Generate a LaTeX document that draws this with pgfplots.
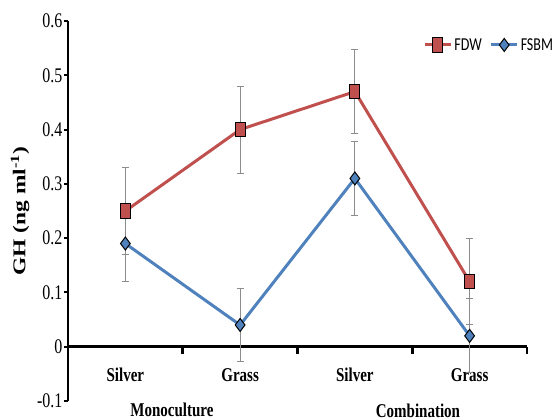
\documentclass[border=0pt]{standalone}
\usepackage{fontspec}
\setmainfont{Liberation Serif}
\newfontfamily\carlito{Carlito}
\usepackage{graphicx}
\usepackage{pgfplots}
\pgfplotsset{compat=1.18}
\definecolor{fdw}{HTML}{C0504D}
\definecolor{fsbm}{HTML}{4F81BD}
\definecolor{errc}{HTML}{8C8C8C}
\newcommand{\vs}[1]{\scalebox{1}[1.3]{#1}}
\begin{document}
\begin{tikzpicture}
\path[use as bounding box] (-68pt,-19pt) rectangle (486pt,401pt);
\begin{axis}[
  at={(0,0)}, anchor=south west,
  scale only axis, width=459pt, height=380pt,
  xmin=-0.5, xmax=3.5, ymin=-0.1, ymax=0.6,
  axis y line*=left, axis x line*=middle,
  hide obscured x ticks=false, hide obscured y ticks=false,
  axis line style={line width=2.5pt, black},
  tick style={line width=2pt, black},
  ytick={-0.1,0,0.1,0.2,0.3,0.4,0.5,0.6},
  yticklabels={\vs{-0.1},\vs{0},\vs{0.1},\vs{0.2},\vs{0.3},\vs{0.4},\vs{0.5},\vs{0.6}},
  yticklabel style={font=\fontsize{16}{16}\selectfont, xshift=2pt},
  ytick align=outside, major tick length=4pt,
  xtick={0,1,2,3},
  xticklabels={\vs{\textbf{Silver}},\vs{\textbf{Grass}},\vs{\textbf{Silver}},\vs{\textbf{Grass}}},
  xticklabel style={font=\fontsize{15}{15}\selectfont, yshift=-18pt},
  major x tick style={draw=none},
  extra x ticks={0.5,1.5,2.5,3.5},
  extra x tick labels={},
  extra x tick style={major x tick style={draw=black, line width=2.5pt}, major tick length=7pt, xtick align=outside},
  ylabel={\scalebox{1.3}[1]{\textbf{GH (ng ml\textsuperscript{-1})}}},
  ylabel style={font=\fontsize{18}{18}\selectfont, at={(rel axis cs:0,0.5)}, yshift=48pt, anchor=center},
  clip=false,
  legend columns=2,
  legend style={at={(rel axis cs:1.068,0.937)}, anchor=east, draw=none, fill=none,
    font=\carlito\fontsize{14}{14}\selectfont,
    /tikz/every even column/.append style={column sep=6pt}},
  legend image code/.code={\draw[mark repeat=2,mark phase=2] plot coordinates {(0pt,0pt)(13pt,0pt)(26pt,0pt)};},
  error bars/y dir=both, error bars/y explicit,
  error bars/error bar style={errc, line width=1pt},
  error bars/error mark options={errc, line width=1pt, mark size=3.5pt, rotate=90},
]
\draw[line width=2.5pt, black] (rel axis cs:0,0) -- (rel axis cs:0,1);
\draw[line width=3pt, black] (axis cs:-0.5,0) -- (axis cs:3.5,0);
\addplot[fdw, line width=3pt, mark=square*, mark size=5pt,
  mark options={fill=fdw, draw=black, line width=1pt, yscale=1.45}]
  coordinates {(0,0.25) +- (0,0.08) (1,0.40) +- (0,0.08) (2,0.47) +- (0,0.078) (3,0.12) +- (0,0.08)};
\addlegendentry{\vs{FDW}}
\addplot[fsbm, line width=3pt, mark=diamond*, mark size=6.5pt,
  mark options={fill=fsbm, draw=black, line width=1pt}]
  coordinates {(0,0.19) +- (0,0.07) (1,0.04) +- (0,0.068) (2,0.31) +- (0,0.068) (3,0.02) +- (0,0.068)};
\addlegendentry{\vs{FSBM}}
\node[font=\bfseries\fontsize{15}{15}\selectfont, yshift=-9pt] at (axis cs:0.406,-0.1) {\vs{Monoculture}};
\node[font=\bfseries\fontsize{15}{15}\selectfont, yshift=-10pt] at (axis cs:2.55,-0.1) {\vs{Combination}};
\end{axis}
\end{tikzpicture}
\end{document}
